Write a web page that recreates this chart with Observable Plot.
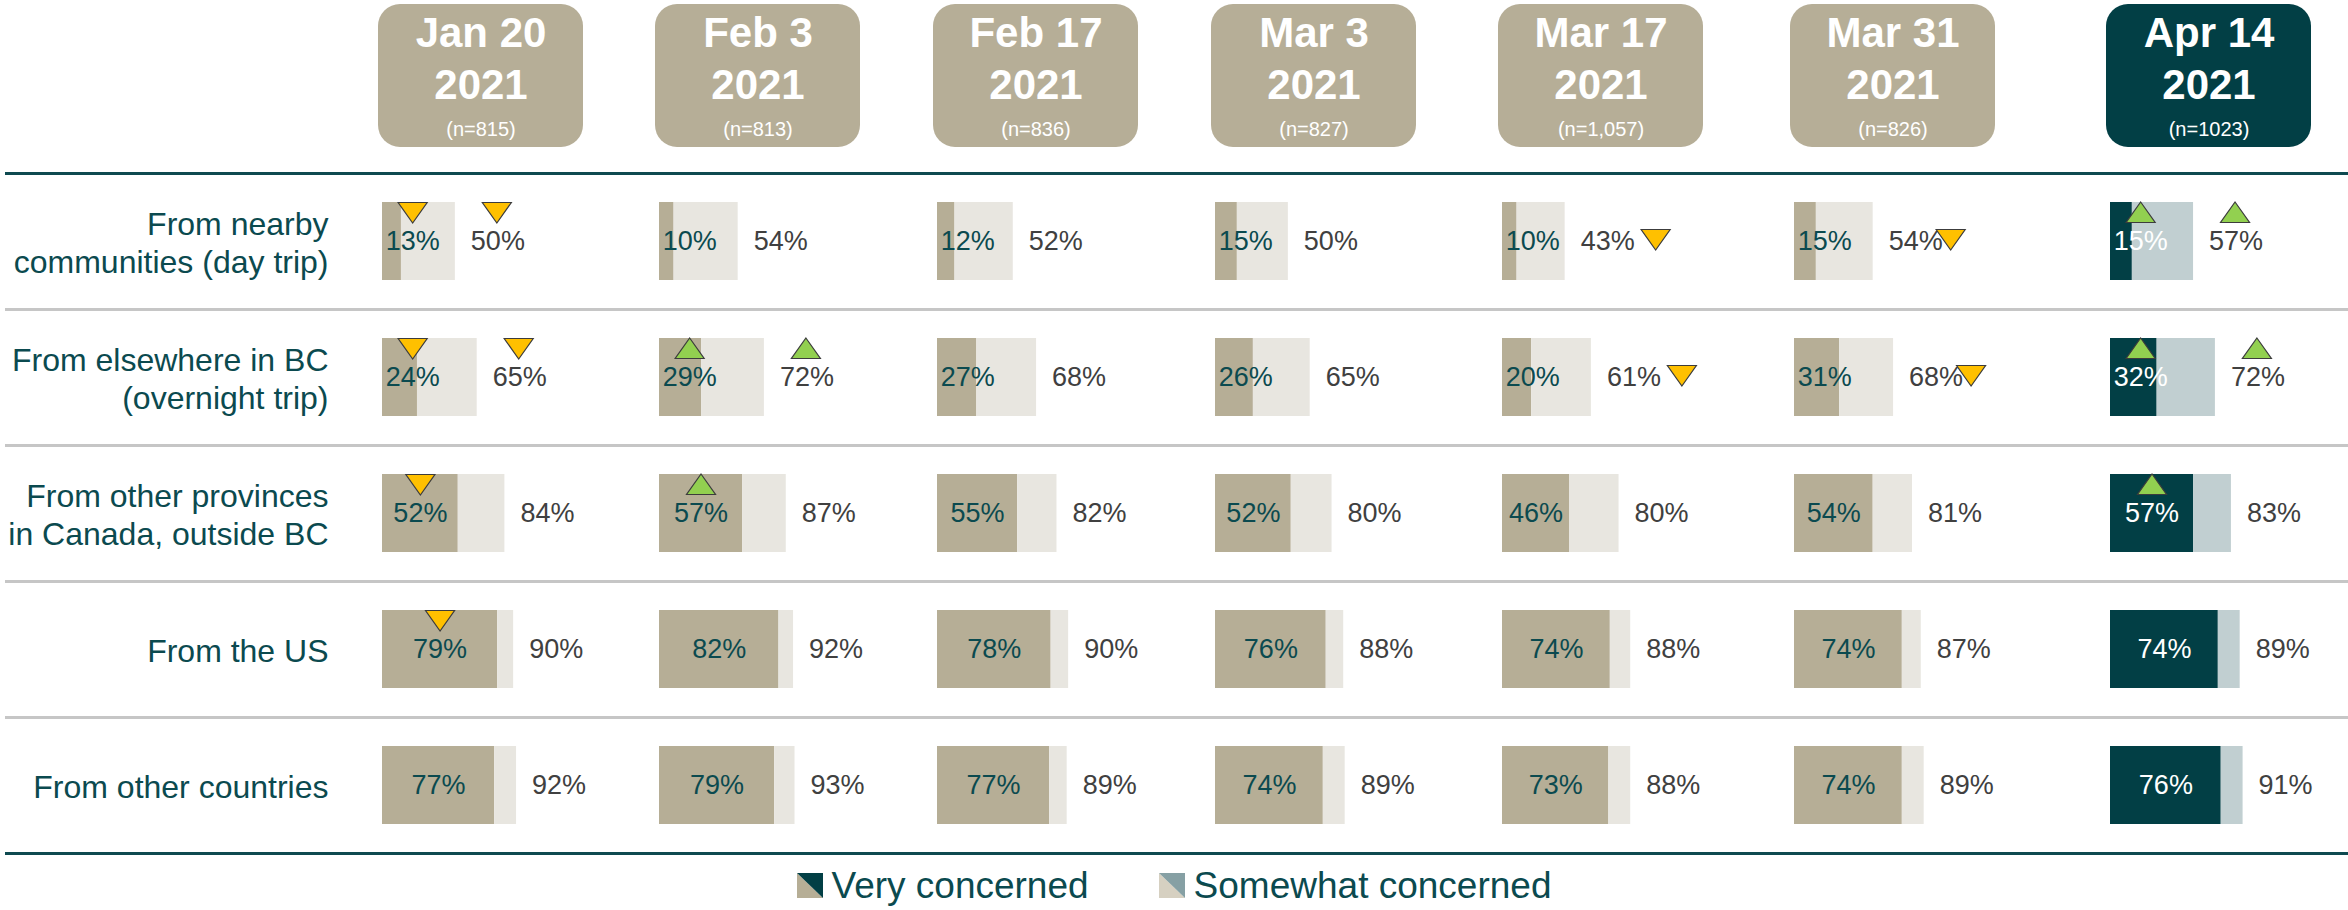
<!DOCTYPE html>
<html><head><meta charset="utf-8">
<script src="https://cdn.jsdelivr.net/npm/d3@7"></script>
<script src="https://cdn.jsdelivr.net/npm/@observablehq/plot@0.6"></script>
<style>
html,body{margin:0;padding:0;background:#fff;overflow:hidden;}
#chart{width:2348px;font-family:"Liberation Sans",Arial,sans-serif;}
#chart svg{display:block;max-width:none;}
.legend{display:flex;justify-content:center;align-items:center;height:49px;font-size:37px;color:#0b4a4f;line-height:49px;}
.legend .item{display:flex;align-items:center;}
.legend svg{margin-right:9px;}
.legend .item + .item{margin-left:70px;}
</style></head><body><div id="chart"></div><script>
// ---------- data ----------
const dates = ["Jan 20", "Feb 3", "Feb 17", "Mar 3", "Mar 17", "Mar 31", "Apr 14"];
const years = ["2021", "2021", "2021", "2021", "2021", "2021", "2021"];
const sampleSizes = ["(n=815)", "(n=813)", "(n=836)", "(n=827)", "(n=1,057)", "(n=826)", "(n=1023)"];
const rows = [
  "From nearby\ncommunities (day trip)",
  "From elsewhere in BC\n(overnight trip)",
  "From other provinces\nin Canada, outside BC",
  "From the US",
  "From other countries"
];
// "Very concerned" (%)
const veryConcerned = [
  [13, 10, 12, 15, 10, 15, 15],
  [24, 29, 27, 26, 20, 31, 32],
  [52, 57, 55, 52, 46, 54, 57],
  [79, 82, 78, 76, 74, 74, 74],
  [77, 79, 77, 74, 73, 74, 76]
];
// Total concerned = very + somewhat (%)
const totalConcerned = [
  [50, 54, 52, 50, 43, 54, 57],
  [65, 72, 68, 65, 61, 68, 72],
  [84, 87, 82, 80, 80, 81, 83],
  [90, 92, 90, 88, 88, 87, 89],
  [92, 93, 89, 89, 88, 89, 91]
];
// significant change markers
const veryChange = [
  ["down", null, null, null, null, null, "up"],
  ["down", "up", null, null, null, null, "up"],
  ["down", "up", null, null, null, null, "up"],
  ["down", null, null, null, null, null, null],
  [null, null, null, null, null, null, null]
];
const totalChange = [
  ["down", null, null, null, "down", "down", "up"],
  ["down", "up", null, null, "down", "down", "up"],
  [null, null, null, null, null, null, null],
  [null, null, null, null, null, null, null],
  [null, null, null, null, null, null, null]
];
const legendLabels = ["Very concerned", "Somewhat concerned"];

// ---------- layout ----------
const W = 2348, PX_PER_PCT = 1.457;
const colStartPx = [382, 659, 937, 1215, 1502, 1794, 2110];
const off = colStartPx.map(p => p / PX_PER_PCT);
const xDomain = [0, W / PX_PER_PCT];
const BOX_W = 205 / PX_PER_PCT;
const current = dates.length - 1;
const FONT = "Liberation Sans, Arial, sans-serif";

const colors = {
  past: {very: "#b6ae96", some: "#e8e6e0", label: "#0b4a4f", box: "#b6ae97"},
  now:  {very: "#023f45", some: "#c1cfd1", label: "#ffffff", box: "#023f45"}
};
const pal = j => j === current ? colors.now : colors.past;

const headerData = dates.map((d, j) => ({j, date: d, year: years[j], n: sampleSizes[j]}));
const cells = [];
rows.forEach((r, i) => dates.forEach((d, j) => cells.push({
  row: r, i, j, very: veryConcerned[i][j], total: totalConcerned[i][j],
  vArrow: veryChange[i][j], tArrow: totalChange[i][j]
})));
const innerX = d => off[d.j] + Math.max(d.very / 2, 20.7);

const triUp = {draw(ctx) {ctx.moveTo(0, -10.5); ctx.lineTo(14.5, 10); ctx.lineTo(-14.5, 10); ctx.closePath();}};
const triDown = {draw(ctx) {ctx.moveTo(-14.5, -10); ctx.lineTo(14.5, -10); ctx.lineTo(0, 10.5); ctx.closePath();}};
const arrowStyle = dir => dir === "up"
  ? {symbol: triUp, fill: "#92d050"} : {symbol: triDown, fill: "#ffc000"};

function arrowMarks(data, xFn, dx, dy) {
  return ["up", "down"].map(dir => Plot.dot(data.filter(d => d.dir === dir), {
    x: xFn, y: "row", r: 10, dx, dy, stroke: "#3c3c3c", strokeWidth: 1.2, ...arrowStyle(dir)
  }));
}
const veryArrows = cells.filter(d => d.vArrow).map(d => ({...d, dir: d.vArrow}));
const totalArrows = cells.filter(d => d.tArrow).map(d => ({...d, dir: d.tArrow}));
const sideCols = {4: 90.5, 5: 77.5};

// ---------- header ----------
const header = Plot.plot({
  width: W, height: 171, marginLeft: 0, marginRight: 0, marginTop: 4, marginBottom: 24,
  x: {domain: xDomain, axis: null},
  color: {type: "identity"},
  style: {fontFamily: FONT, background: "white"},
  marks: [
    Plot.rect(headerData, {x1: d => off[d.j], x2: d => off[d.j] + BOX_W, dx: -4, rx: 22, ry: 22, fill: d => pal(d.j).box}),
    Plot.text(headerData, {x: d => off[d.j] + BOX_W / 2, dx: -4, frameAnchor: "top", lineAnchor: "top", dy: 6,
      text: d => d.date + "\n" + d.year, fontSize: 42, fontWeight: "bold", fill: "white", lineHeight: 1.238}),
    Plot.text(headerData, {x: d => off[d.j] + BOX_W / 2, dx: -4, frameAnchor: "top", lineAnchor: "top", dy: 117,
      text: "n", fontSize: 20, fill: "white"})
  ]
});

// ---------- body ----------
const body = Plot.plot({
  width: W, height: 690, marginLeft: 0, marginRight: 0, marginTop: 2, marginBottom: 8,
  x: {domain: xDomain, axis: null},
  y: {domain: rows, axis: null, paddingInner: 0.426, paddingOuter: 0.213},
  color: {type: "identity"},
  style: {fontFamily: FONT, background: "white"},
  marks: [
    Plot.ruleY(rows.slice(1), {y: d => d, dy: -68, stroke: "#c6c6c6", strokeWidth: 3, insetLeft: 5}),
    Plot.ruleY([rows[0]], {y: d => d, dy: -68, stroke: "#0e4a50", strokeWidth: 3, insetLeft: 5}),
    Plot.ruleY([rows[rows.length - 1]], {y: d => d, dy: 68, stroke: "#0e4a50", strokeWidth: 3, insetLeft: 5}),
    Plot.barX(cells, {y: "row", x1: d => off[d.j], x2: d => off[d.j] + d.very, fill: d => pal(d.j).very}),
    Plot.barX(cells, {y: "row", x1: d => off[d.j] + d.very, x2: d => off[d.j] + d.total, fill: d => pal(d.j).some}),
    Plot.text(cells, {y: "row", x: innerX, text: d => d.very + "%", fill: d => pal(d.j).label, fontSize: 27}),
    Plot.text(cells, {y: "row", x: d => off[d.j] + d.total, dx: 15.5, textAnchor: "start",
      text: d => d.total + "%", fill: "#404040", fontSize: 27}),
    Plot.text(rows, {y: d => d, frameAnchor: "left", dx: 328, textAnchor: "end", text: d => d,
      fill: "#0b4a4f", fontSize: 32, lineHeight: 1.19}),
    ...arrowMarks(veryArrows, innerX, 0, -29),
    ...arrowMarks(totalArrows.filter(d => !(d.j in sideCols)), d => off[d.j] + d.total, 41.5, -29),
    ...Object.entries(sideCols).flatMap(([j, dx]) =>
      arrowMarks(totalArrows.filter(d => d.j === +j), d => off[d.j] + d.total, dx, -2))
  ]
});

const chart = document.getElementById("chart");
chart.append(header, body);

// ---------- legend ----------
const legend = document.createElement("div");
legend.className = "legend";
const swatches = [["#b6ae96", "#023f45"], ["#d6d0c1", "#86a0a4"]];
legend.innerHTML = legendLabels.map((lab, k) =>
  `<div class="item"><svg width="26" height="25"><polygon points="0,0 0,25 26,25" fill="${swatches[k][0]}"/><polygon points="0,0 26,0 26,25" fill="${swatches[k][1]}"/></svg><span>${lab}</span></div>`
).join("");
chart.append(legend);
</script></body></html>
